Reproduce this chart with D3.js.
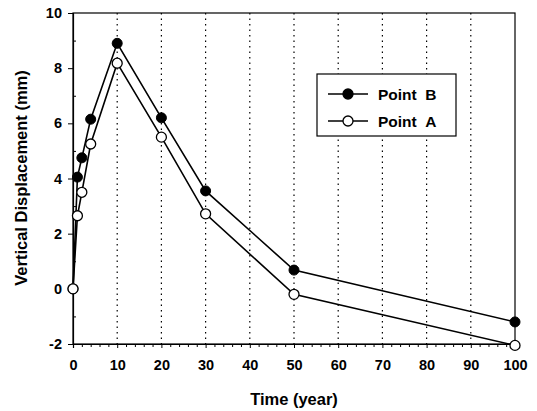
<!DOCTYPE html>
<html>
<head>
<meta charset="utf-8">
<script src="https://cdn.jsdelivr.net/npm/d3@7"></script>
<style>
  body { margin: 0; background: #fff; }
  text { font-family: Arial, "Liberation Sans", sans-serif; font-weight: bold; }
</style>
</head>
<body>
<div class="chart"></div>
<script>
const years = [0, 1, 2, 4, 10, 20, 30, 50, 100];
const pointB = [0, 4.05, 4.75, 6.15, 8.9, 6.2, 3.55, 0.68, -1.2];
const pointA = [0, 2.65, 3.5, 5.25, 8.18, 5.5, 2.72, -0.2, -2.05];
const xTicks = [0, 10, 20, 30, 40, 50, 60, 70, 80, 90, 100];
const yTicks = [-2, 0, 2, 4, 6, 8, 10];

const margin = {top: 13, right: 22, bottom: 67, left: 73};
const width = 537 - margin.left - margin.right,
      height = 411 - margin.top - margin.bottom;

const xScale = d3.scaleLinear().domain([0, 100]).range([0, width]);
const yScale = d3.scaleLinear().domain([-2, 10]).range([height, 0]);

const svg = d3.select('.chart')
  .append('svg')
  .attr('width', 537)
  .attr('height', 411)
  .append('g')
  .attr('transform', `translate(${margin.left},${margin.top})`);

// dotted vertical grid
svg.selectAll('.grid')
  .data(xTicks.filter(d => d > 0 && d < 100))
  .enter().append('line')
  .attr('x1', d => xScale(d)).attr('x2', d => xScale(d))
  .attr('y1', 0).attr('y2', height)
  .attr('stroke', '#000').attr('stroke-width', 1.2)
  .attr('stroke-dasharray', '1.5,4');

// frame
svg.append('rect')
  .attr('width', width).attr('height', height)
  .attr('fill', 'none').attr('stroke', '#000').attr('stroke-width', 1.2);

// minor ticks
const minorX = d3.range(2, 100, 2).filter(d => d % 10 !== 0);
svg.append('g')
  .attr('transform', `translate(0,${height})`)
  .call(d3.axisBottom(xScale).tickValues(minorX).tickSize(3).tickFormat(''))
  .call(g => g.select('.domain').remove());
svg.append('g')
  .call(d3.axisLeft(yScale).tickValues(d3.range(-1, 10, 2)).tickSize(-3).tickFormat(''))
  .call(g => g.select('.domain').remove());

// major axes
const xAxis = svg.append('g')
  .attr('transform', `translate(0,${height})`)
  .call(d3.axisBottom(xScale).tickValues(xTicks).tickSize(4).tickPadding(12));
xAxis.select('.domain').attr('stroke-width', 1.2);
xAxis.selectAll('text').attr('font-size', 14.5).attr('fill', '#000');

const yAxis = svg.append('g')
  .call(d3.axisLeft(yScale).tickValues(yTicks).tickSize(5).tickPadding(6)
    .tickFormat(d => d.toString()));
yAxis.select('.domain').attr('stroke-width', 1.2);
yAxis.selectAll('text').attr('font-size', 14.5).attr('fill', '#000');

// series
const line = d3.line().x(d => xScale(d[0])).y(d => yScale(d[1]));
const seriesB = years.map((t, i) => [t, pointB[i]]);
const seriesA = years.map((t, i) => [t, pointA[i]]);

[seriesB, seriesA].forEach(s => {
  svg.append('path').datum(s)
    .attr('d', line).attr('fill', 'none')
    .attr('stroke', '#000').attr('stroke-width', 1.6);
});

svg.selectAll('.ptB').data(seriesB).enter().append('circle')
  .attr('cx', d => xScale(d[0])).attr('cy', d => yScale(d[1]))
  .attr('r', 5).attr('fill', '#000').attr('stroke', '#000');

svg.selectAll('.ptA').data(seriesA).enter().append('circle')
  .attr('cx', d => xScale(d[0])).attr('cy', d => yScale(d[1]))
  .attr('r', 5).attr('fill', '#fff').attr('stroke', '#000').attr('stroke-width', 1.3);

// legend
const legend = svg.append('g').attr('transform', `translate(${317 - margin.left},${74 - margin.top})`);
legend.append('rect').attr('width', 139).attr('height', 62)
  .attr('fill', '#fff').attr('stroke', '#000').attr('stroke-width', 1.2);
const legendItems = [{name: 'Point B', fill: '#000', y: 20}, {name: 'Point A', fill: '#fff', y: 47}];
legendItems.forEach(it => {
  legend.append('line').attr('x1', 11).attr('x2', 51).attr('y1', it.y).attr('y2', it.y)
    .attr('stroke', '#000').attr('stroke-width', 1.6);
  legend.append('circle').attr('cx', 31).attr('cy', it.y).attr('r', 5)
    .attr('fill', it.fill).attr('stroke', '#000').attr('stroke-width', 1.3);
  legend.append('text').attr('x', 61).attr('y', it.y).attr('dy', '0.36em')
    .attr('font-size', 15.5).text(it.name.replace(' ', '\u00a0\u00a0'));
});

// axis titles
svg.append('text')
  .attr('x', xScale(50)).attr('y', height + 61)
  .attr('text-anchor', 'middle').attr('font-size', 16.5)
  .text('Time (year)');

svg.append('text')
  .attr('transform', `translate(${21 - margin.left},${178 - margin.top}) rotate(-90)`)
  .attr('text-anchor', 'middle').attr('dy', '0.35em').attr('font-size', 16.5)
  .text('Vertical Displacement (mm)');
</script>
</body>
</html>
